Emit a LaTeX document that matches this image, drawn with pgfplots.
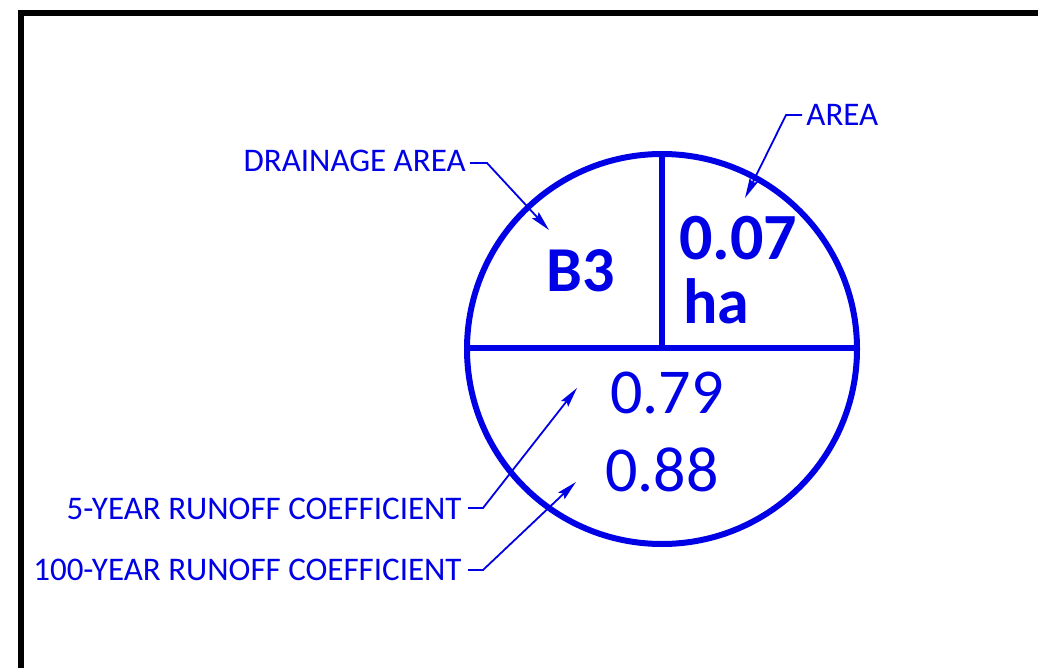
\documentclass[border=0pt]{standalone}
\usepackage{pgfplots}
\pgfplotsset{compat=1.18}
\usepackage{fontspec}
\setmainfont{Carlito}
\usetikzlibrary{arrows.meta}
\definecolor{cadblue}{RGB}{0,0,230}
\begin{document}
\begin{tikzpicture}
\begin{axis}[
  width=519pt, height=334pt, scale only axis,
  xmin=0, xmax=1038, ymin=0, ymax=668, y dir=reverse,
  hide axis, clip=true,
]
\path (axis cs:0,0) rectangle (axis cs:1038,668);
% frame
\addplot[black, line width=3pt, line join=miter] coordinates {(21,668) (21,13) (1038,13)};
% divider lines
\addplot[cadblue, line width=2.6pt] coordinates {(467,348) (857,348)};
\addplot[cadblue, line width=2.6pt] coordinates {(662,154) (662,348)};
% circle
\draw[cadblue, line width=3pt] (axis cs:662,349) circle[radius=97.5pt];
% leaders
\addplot[cadblue, line width=0.9pt, -{Stealth[length=10pt,width=4.5pt,inset=1.5pt]}] coordinates {(470,163) (487,163) (549,230)};
\addplot[cadblue, line width=0.9pt, -{Stealth[length=10pt,width=4.5pt,inset=1.5pt]}] coordinates {(802,115) (786,115) (745,198)};
\addplot[cadblue, line width=0.9pt, -{Stealth[length=10pt,width=4.5pt,inset=1.5pt]}] coordinates {(468,508) (483,508) (577,388)};
\addplot[cadblue, line width=0.9pt, -{Stealth[length=10pt,width=4.5pt,inset=1.5pt]}] coordinates {(468,570) (483,570) (576,482)};
% labels
\begin{scope}[every node/.style={inner sep=0pt, text=cadblue, font=\fontsize{16.5}{18}\selectfont}]
\node[anchor=base east] at (axis cs:466,172) {DRAINAGE AREA};
\node[anchor=base west] at (axis cs:806,126) {AREA};
\node[anchor=base east] at (axis cs:462,519) {5-YEAR RUNOFF COEFFICIENT};
\node[anchor=base east] at (axis cs:462,580) {100-YEAR RUNOFF COEFFICIENT};
\end{scope}
\begin{scope}[every node/.style={inner sep=0pt, text=cadblue, font=\fontsize{32}{36}\selectfont}]
\node[anchor=base, font=\fontsize{32}{36}\selectfont\bfseries] at (axis cs:581,292) {B3};
\node[anchor=base west, font=\fontsize{33}{36}\selectfont\bfseries] at (axis cs:679,260) {0.07};
\node[anchor=base west, font=\fontsize{32}{36}\selectfont\bfseries] at (axis cs:683,323) {ha};
\node[anchor=base] at (axis cs:667,413) {0.79};
\node[anchor=base] at (axis cs:662,491) {0.88};
\end{scope}
\end{axis}
\end{tikzpicture}
\end{document}
